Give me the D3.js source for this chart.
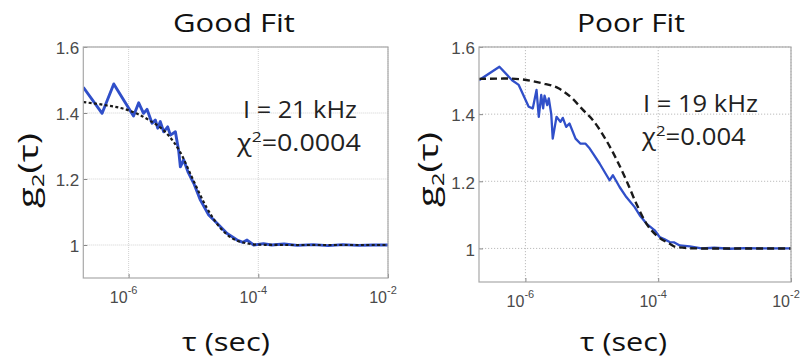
<!DOCTYPE html>
<html><head><meta charset="utf-8">
<script src="https://cdn.jsdelivr.net/npm/d3@7"></script>
<style>body{margin:0;background:#fff;} svg{display:block;}</style>
</head><body>
<svg id="c" width="804" height="362"></svg>
<script>
// ---- data ----
const xTicks = [1e-6, 1e-4, 1e-2];
const xTickExponents = ["-6", "-4", "-2"];
const yTicks = [1, 1.2, 1.4, 1.6];
const yTickLabels = ["1", "1.2", "1.4", "1.6"];
const panelTitles = ["Good Fit", "Poor Fit"];
const intensityLabels = ["I = 21 kHz", "I = 19 kHz"];
const chiValues = ["0.0004", "0.004"];

const goodTau = [2.0e-7, 3.9e-7, 5.9e-7, 1.19e-6, 1.43e-6, 1.70e-6, 1.92e-6, 2.30e-6, 2.58e-6, 2.81e-6, 3.08e-6, 3.47e-6, 4.0e-6, 4.41e-6, 5.26e-6, 5.92e-6, 6.28e-6, 7.06e-6, 8.3e-6, 1.01e-5, 1.28e-5, 1.72e-5, 2.31e-5, 3.30e-5, 4.71e-5, 5.8e-5, 6.71e-5, 8.49e-5, 1.2e-4, 1.6e-4, 2.5e-4, 4e-4, 7e-4, 1.2e-3, 2e-3, 3.5e-3, 6e-3, 1e-2];
const goodG2  = [1.478, 1.399, 1.488, 1.391, 1.431, 1.399, 1.411, 1.369, 1.379, 1.354, 1.374, 1.343, 1.358, 1.333, 1.343, 1.285, 1.237, 1.258, 1.22, 1.187, 1.136, 1.091, 1.066, 1.035, 1.015, 1.008, 1.015, 1.0, 1.004, 1.0, 1.003, 0.999, 1.001, 0.998, 1.001, 0.999, 1.0, 1.0];
const goodFitTau = [2.0e-7, 4.0e-7, 1.0e-6, 2.0e-6, 4.0e-6, 6.3e-6, 1.0e-5, 1.58e-5, 2.51e-5, 3.98e-5, 6.3e-5, 1e-4, 3e-4, 1e-2];
const goodFit    = [1.433, 1.425, 1.408, 1.38, 1.335, 1.28, 1.195, 1.115, 1.055, 1.02, 1.006, 1.001, 1.0, 1.0];

const poorTau = [2.0e-7, 4.06e-7, 6.3e-7, 7.93e-7, 1.12e-6, 1.29e-6, 1.47e-6, 1.59e-6, 1.73e-6, 1.85e-6, 1.94e-6, 2.13e-6, 2.25e-6, 2.45e-6, 2.58e-6, 2.94e-6, 3.37e-6, 3.66e-6, 4.11e-6, 4.61e-6, 5.69e-6, 6.76e-6, 8.05e-6, 9.1e-6, 1.04e-5, 1.31e-5, 1.85e-5, 2.08e-5, 2.62e-5, 3.31e-5, 4.42e-5, 5.26e-5, 6.64e-5, 8.85e-5, 1.05e-4, 1.25e-4, 1.49e-4, 1.75e-4, 2.11e-4, 2.99e-4, 4.5e-4, 7e-4, 1.2e-3, 2e-3, 3.5e-3, 6e-3, 1e-2];
const poorG2  = [1.501, 1.541, 1.501, 1.487, 1.422, 1.417, 1.472, 1.392, 1.457, 1.417, 1.455, 1.427, 1.447, 1.40, 1.327, 1.392, 1.377, 1.389, 1.362, 1.372, 1.327, 1.312, 1.312, 1.30, 1.283, 1.253, 1.203, 1.218, 1.183, 1.153, 1.123, 1.099, 1.074, 1.054, 1.034, 1.027, 1.019, 1.018, 1.009, 1.006, 1.0, 1.002, 0.999, 1.001, 1.0, 1.0, 1.0];
const poorFitTau = [2.0e-7, 5.5e-7, 1.79e-6, 3.15e-6, 5.07e-6, 7.24e-6, 1.04e-5, 1.65e-5, 3.31e-5, 4.69e-5, 6.64e-5, 9.4e-5, 1.49e-4, 1.88e-4, 4.3e-4, 1e-2];
const poorFit    = [1.505, 1.506, 1.492, 1.477, 1.447, 1.414, 1.382, 1.322, 1.203, 1.133, 1.074, 1.039, 1.014, 1.004, 1.0, 1.0];

// ---- layout ----
const panels = [
  {x0: 83.3, x1: 388, y0: 47, y1: 278, tau: goodTau, g2: goodG2, fitTau: goodFitTau, fit: goodFit,
   title: panelTitles[0], titleX: 173, titleW: 122, ann: intensityLabels[0], annX: 243, annW: 114, annY: 118,
   chi: chiValues[0], chiX: 237, chiW: 125, chiY: 151, ylabX: 38, ylabY0: 208, ylabLen: 75,
   xlabX: 182, xlabW: 88, dash: "3,2.4", fitW: 2.2, lineW: 2.9, gridDash: "1,1", gridColor: "#d2d2d2"},
  {x0: 479, x1: 791, y0: 47, y1: 282, tau: poorTau, g2: poorG2, fitTau: poorFitTau, fit: poorFit,
   title: panelTitles[1], titleX: 577, titleW: 108, ann: intensityLabels[1], annX: 643, annW: 115, annY: 112,
   chi: chiValues[1], chiX: 642, chiW: 105, chiY: 145, ylabX: 438, ylabY0: 207, ylabLen: 75,
   xlabX: 580, xlabW: 87, dash: "7,4", fitW: 2.4, lineW: 2.3, gridDash: "1.2,1.8", gridColor: "#bdbdbd"}
];

const svg = d3.select("#c");
const TXT = "'Open Sans', 'Noto Sans', sans-serif";
const TICK = "'Liberation Sans', Arial, sans-serif";

function fitText(sel, x, y, targetW, rotate) {
  const w = sel.node().getBBox().width;
  const s = targetW / w;
  sel.attr("transform", `translate(${x},${y})` + (rotate ? " rotate(-90)" : "") + ` scale(${s},1)`);
}

panels.forEach((p, i) => {
  const x = d3.scaleLog().domain([2e-7, 1e-2]).range([p.x0, p.x1]);
  const y = d3.scaleLinear().domain([0.9, 1.6]).range([p.y1, p.y0]);
  const g = svg.append("g");

  // grid
  g.selectAll(".gx").data(xTicks).enter().append("line")
    .attr("x1", d => x(d)).attr("x2", d => x(d)).attr("y1", p.y0).attr("y2", p.y1)
    .attr("stroke", p.gridColor).attr("stroke-dasharray", p.gridDash).attr("stroke-width", 1);
  g.selectAll(".gy").data(yTicks).enter().append("line")
    .attr("x1", p.x0).attr("x2", p.x1).attr("y1", d => y(d)).attr("y2", d => y(d))
    .attr("stroke", p.gridColor).attr("stroke-dasharray", p.gridDash).attr("stroke-width", 1);

  // axes via d3
  const yAxis = d3.axisLeft(y).tickValues(yTicks).tickSize(-4).tickPadding(4)
    .tickFormat((d, k) => yTickLabels[k]);
  const ya = g.append("g").attr("transform", `translate(${p.x0},0)`).call(yAxis);
  ya.select(".domain").remove();
  ya.selectAll("line").attr("stroke", "#888");
  ya.selectAll("text").attr("font-family", TICK).attr("font-size", 17).attr("fill", "#4a4a4a")
    .attr("dy", "0.4em");

  const xAxis = d3.axisBottom(x).tickValues(xTicks).tickSize(-4).tickFormat(() => "");
  const xa = g.append("g").attr("transform", `translate(0,${p.y1})`).call(xAxis);
  xa.select(".domain").remove();
  xa.selectAll("line").attr("stroke", "#888");
  xTicks.forEach((t, k) => {
    const tx = g.append("text").attr("x", x(t) - 5).attr("y", p.y1 + 25)
      .attr("font-family", TICK).attr("font-size", 16).attr("fill", "#4a4a4a").attr("text-anchor", "middle");
    tx.append("tspan").text("10");
    tx.append("tspan").attr("dy", -9).attr("font-size", 11).text(xTickExponents[k]);
  });

  // clip
  const cid = "clip" + i;
  svg.append("clipPath").attr("id", cid).append("rect")
    .attr("x", p.x0).attr("y", p.y0).attr("width", p.x1 - p.x0).attr("height", p.y1 - p.y0);

  const dataPts = p.tau.map((t, k) => ({t, v: p.g2[k]}));
  const fitPts = p.fitTau.map((t, k) => ({t, v: p.fit[k]}));
  const lineD = d3.line().x(d => x(d.t)).y(d => y(d.v));
  const lineF = d3.line().x(d => x(d.t)).y(d => y(d.v)).curve(d3.curveMonotoneX);

  g.append("path").attr("clip-path", `url(#${cid})`).attr("d", lineD(dataPts))
    .attr("fill", "none").attr("stroke", "#2546c6").attr("stroke-width", p.lineW)
    .attr("stroke-linejoin", "round").attr("stroke-opacity", 0.95);
  g.append("path").attr("clip-path", `url(#${cid})`).attr("d", lineF(fitPts))
    .attr("fill", "none").attr("stroke", "#1a1a1a").attr("stroke-width", p.fitW)
    .attr("stroke-dasharray", p.dash);

  // frame
  g.append("rect").attr("x", p.x0).attr("y", p.y0).attr("width", p.x1 - p.x0).attr("height", p.y1 - p.y0)
    .attr("fill", "none").attr("stroke", "#a8a8a8").attr("stroke-width", 1.2);

  // title
  const tt = svg.append("text").attr("font-family", TXT).attr("font-size", 25).attr("fill", "#111").text(p.title);
  fitText(tt, p.titleX, 32, p.titleW);

  // annotations
  const a1 = svg.append("text").attr("font-family", TXT).attr("font-size", 23).attr("fill", "#222").text(p.ann);
  fitText(a1, p.annX, p.annY, p.annW);
  const a2 = svg.append("text").attr("font-family", TXT).attr("font-size", 23).attr("fill", "#222");
  a2.append("tspan").text("χ");
  a2.append("tspan").attr("dy", -9).attr("font-size", 15).text("2");
  a2.append("tspan").attr("dy", 9).text("=" + p.chi);
  fitText(a2, p.chiX, p.chiY, p.chiW);

  // x label
  const xl = svg.append("text").attr("font-family", TXT).attr("font-size", 25).attr("fill", "#111").text("τ (sec)");
  fitText(xl, p.xlabX, 351, p.xlabW);

  // y label
  const yl = svg.append("text").attr("font-family", TXT).attr("font-size", 27).attr("fill", "#111");
  yl.append("tspan").text("g");
  yl.append("tspan").attr("dy", 6).attr("font-size", 17).text("2");
  yl.append("tspan").attr("dy", -6).text("(τ)");
  fitText(yl, p.ylabX, p.ylabY0, p.ylabLen, true);
});
</script>
</body></html>
